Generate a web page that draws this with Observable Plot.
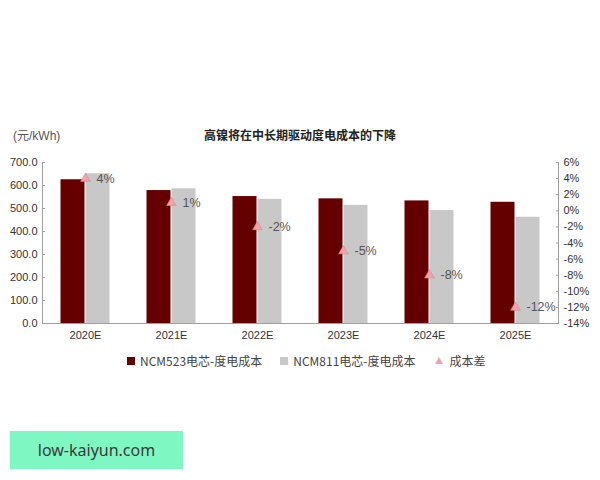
<!DOCTYPE html>
<html>
<head>
<meta charset="utf-8">
<script src="https://cdn.jsdelivr.net/npm/d3@7"></script>
<script src="https://cdn.jsdelivr.net/npm/@observablehq/plot@0.6"></script>
<style>
  html, body { margin: 0; padding: 0; background: #fff; }
  #wrap { position: relative; width: 600px; height: 480px; overflow: hidden; font-family: "Liberation Sans", "Noto Sans CJK SC", sans-serif; }
  #chart { position: absolute; left: 0; top: 0; }
  .title { position: absolute; top: 126px; left: 0; width: 600px; text-align: center; font-family: "Noto Sans CJK SC", sans-serif; font-weight: bold; font-size: 12px; color: #222; }
  .unit { position: absolute; top: 126px; left: 13px; font-size: 12px; color: #555; font-family: "Liberation Sans", "Noto Sans CJK SC", sans-serif; }
  .legend { position: absolute; top: 352px; left: 127px; font-family: "Noto Sans CJK SC", sans-serif; font-size: 12px; color: #444; display: flex; align-items: center; white-space: nowrap; }
  .legend .item { display: flex; align-items: center; }
  .legend .sw { width: 8px; height: 8px; display: inline-block; margin-right: 5px; }
  .legend .tri { width: 0; height: 0; border-left: 4px solid transparent; border-right: 4px solid transparent; border-bottom: 7px solid #eea3a8; margin-right: 6px; display: inline-block; }
  .wm { position: absolute; left: 10px; top: 431px; width: 173px; height: 38px; background: #7ff7c3; color: #3a3a3a; font-family: "Noto Sans", "Liberation Sans", sans-serif; font-size: 16px; line-height: 38px; text-align: center; }
</style>
</head>
<body>
<div id="wrap">
  <div id="chart"></div>
  <div class="unit">(元/kWh)</div>
  <div class="title">高镍将在中长期驱动度电成本的下降</div>
  <div class="legend" id="legend"></div>
  <div class="wm">low-kaiyun.com</div>
</div>
<script>
const years = ["2020E", "2021E", "2022E", "2023E", "2024E", "2025E"];
const seriesNames = ["NCM523电芯-度电成本", "NCM811电芯-度电成本"];
const ncm523 = [625, 578, 552, 542, 533, 527];
const ncm811 = [651, 586, 540, 514, 491, 462];
const costDiff = [4, 1, -2, -5, -8, -12];
const diffLabels = ["4%", "1%", "-2%", "-5%", "-8%", "-12%"];
const diffName = "成本差";
const leftTicks = [0, 100, 200, 300, 400, 500, 600, 700];
const rightTicks = [6, 4, 2, 0, -2, -4, -6, -8, -10, -12, -14];
const seriesColors = ["#650000", "#c8c8c8"];

// secondary (percent) axis mapped onto the primary value scale
const leftMax = 700, pMin = -14, pMax = 6;
const toY = p => (p - pMin) / (pMax - pMin) * leftMax;
const fromY = v => v / leftMax * (pMax - pMin) + pMin;

const bars = [];
years.forEach((y, i) => {
  bars.push({year: y, series: seriesNames[0], value: ncm523[i]});
  bars.push({year: y, series: seriesNames[1], value: ncm811[i]});
});
const diffs = years.map((y, i) => ({year: y, p: costDiff[i], label: diffLabels[i]}));

const chart = Plot.plot({
  width: 600,
  height: 480,
  marginTop: 162,
  marginBottom: 157,
  marginLeft: 42,
  marginRight: 42,
  style: {fontFamily: "Liberation Sans, Arial, sans-serif", fontSize: "11px", color: "#333", background: "transparent"},
  fx: {domain: years, padding: 0, label: null},
  x: {domain: seriesNames, paddingInner: 0, paddingOuter: 0.72, axis: null},
  y: {domain: [0, leftMax], label: null},
  color: {domain: seriesNames, range: seriesColors},
  marks: [
    Plot.barY(bars, {fx: "year", x: "series", y: "value", fill: "series", insetLeft: 0.5, insetRight: 0.5}),
    Plot.ruleY([0], {stroke: "#a0a0a0"}),
    Plot.frame({anchor: "left", stroke: "#a0a0a0", facet: "super"}),
    Plot.frame({anchor: "right", stroke: "#a0a0a0", facet: "super"}),
    Plot.axisY({anchor: "left", ticks: leftTicks, tickFormat: d => d.toFixed(1), tickSize: -3, tickPadding: 8, stroke: "#a0a0a0", fill: "#333", label: null}),
    Plot.axisY({anchor: "right", ticks: rightTicks.map(toY), tickFormat: d => Math.round(fromY(d)) + "%", tickSize: -3, tickPadding: 8, stroke: "#a0a0a0", fill: "#333", label: null}),
    Plot.axisFx({anchor: "bottom", tickSize: 0, tickPadding: 8, fill: "#333", label: null}),
    Plot.dot(diffs, {fx: "year", y: d => toY(d.p), symbol: "triangle", r: 3.6, fill: "#eea3a8", stroke: "#dc8a91", strokeWidth: 0.6}),
    Plot.text(diffs, {fx: "year", y: d => toY(d.p), text: "label", dx: 11, textAnchor: "start", fill: "#555", fontSize: 12.5})
  ]
});
document.getElementById("chart").appendChild(chart);

// legend
const legend = document.getElementById("legend");
seriesNames.forEach((name, i) => {
  const item = document.createElement("span");
  item.className = "item";
  item.style.marginRight = i === 0 ? "18px" : "20px";
  const sw = document.createElement("span");
  sw.className = "sw";
  sw.style.background = seriesColors[i];
  item.appendChild(sw);
  item.appendChild(document.createTextNode(name));
  legend.appendChild(item);
});
const triItem = document.createElement("span");
triItem.className = "item";
const tri = document.createElement("span");
tri.className = "tri";
triItem.appendChild(tri);
triItem.appendChild(document.createTextNode(diffName));
legend.appendChild(triItem);
</script>
</body>
</html>
